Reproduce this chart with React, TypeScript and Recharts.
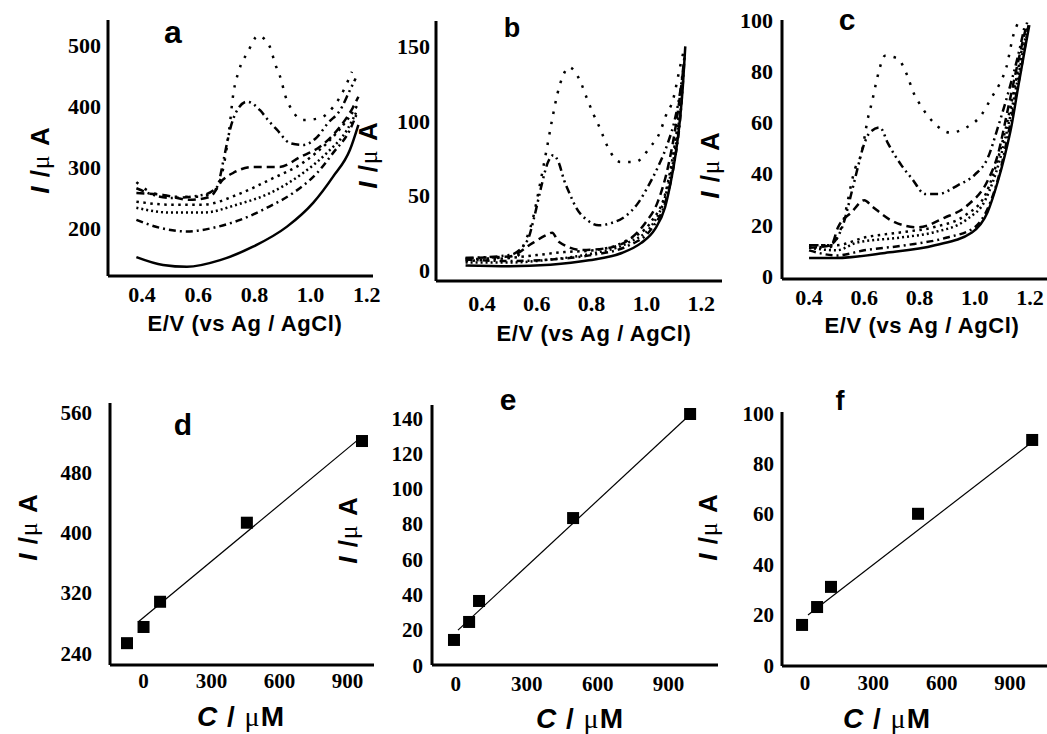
import { LineChart, Line, XAxis, YAxis, ScatterChart, Scatter } from "recharts";

// Cyclic voltammograms (E in V, I in µA) and calibration plots (C in µM, I in µA)

const E_TICKS = [0.4, 0.6, 0.8, 1.0, 1.2];
const C_TICKS = [0, 300, 600, 900];

// panel a
const aSolid = [[0.38, 152], [0.475, 139], [0.56, 136], [0.678, 147], [0.795, 169], [0.916, 202], [1.009, 241], [1.08, 284], [1.14, 328], [1.17, 369]];
const aDashDot = [[0.38, 213], [0.464, 200], [0.56, 194], [0.653, 200], [0.749, 213], [0.845, 233], [0.937, 257], [1.023, 290], [1.08, 323], [1.14, 361], [1.165, 388]];
const aDot1 = [[0.38, 233], [0.5, 225], [0.617, 225], [0.737, 238], [0.855, 257], [0.973, 290], [1.058, 323], [1.13, 361], [1.165, 392]];
const aDot2 = [[0.38, 243], [0.5, 238], [0.617, 238], [0.737, 254], [0.855, 279], [0.973, 307], [1.058, 339], [1.13, 377], [1.165, 400]];
const aDash = [[0.38, 257], [0.475, 254], [0.57, 246], [0.642, 251], [0.688, 279], [0.724, 290], [0.795, 300], [0.89, 300], [0.962, 316], [1.033, 333], [1.105, 366], [1.15, 397], [1.17, 415]];
const aDashDot2 = [[0.38, 265], [0.5, 249], [0.617, 254], [0.667, 267], [0.69, 311], [0.713, 361], [0.735, 390], [0.774, 407], [0.82, 393], [0.848, 377], [0.88, 361], [0.927, 339], [0.973, 336], [1.023, 349], [1.062, 372], [1.105, 393], [1.14, 426], [1.16, 445]];
const aSparse = [[0.38, 275], [0.44, 257], [0.525, 251], [0.606, 251], [0.66, 262], [0.69, 300], [0.71, 360], [0.725, 420], [0.745, 458], [0.777, 489], [0.813, 515], [0.855, 497], [0.873, 470], [0.895, 443], [0.909, 418], [0.934, 393], [0.973, 377], [1.033, 380], [1.08, 398], [1.105, 415], [1.147, 456]];

// panel b
const bSolid = [[0.34, 3], [0.5, 2.5], [0.65, 3.5], [0.79, 6.5], [0.91, 11.4], [0.98, 18], [1.03, 27], [1.068, 42], [1.09, 60], [1.107, 78], [1.122, 100], [1.133, 123], [1.142, 150]];
const bDashDot = [[0.34, 7], [0.5, 6], [0.65, 7], [0.8, 10], [0.93, 16], [1.02, 28], [1.07, 46], [1.1, 70], [1.125, 105], [1.14, 145]];
const bDot1 = [[0.34, 5], [0.5, 5], [0.65, 7], [0.8, 11], [0.93, 18], [1.02, 30], [1.07, 50], [1.1, 75], [1.125, 108]];
const bDot2 = [[0.34, 6], [0.5, 8], [0.6, 10], [0.7, 12], [0.8, 13], [0.93, 20], [1.02, 33], [1.07, 52], [1.1, 80], [1.125, 112]];
const bDash = [[0.34, 8], [0.5, 9], [0.584, 18], [0.63, 23], [0.656, 25], [0.68, 19], [0.765, 13.4], [0.862, 14.8], [0.945, 21.5], [0.996, 31.5], [1.04, 45], [1.08, 70], [1.11, 100], [1.135, 135]];
const bDashDot2 = [[0.34, 8], [0.5, 10], [0.566, 20], [0.59, 35], [0.615, 55], [0.64, 72], [0.66, 77], [0.68, 72], [0.7, 60], [0.718, 52], [0.743, 42], [0.78, 34], [0.826, 30], [0.873, 31.5], [0.923, 36], [0.97, 45], [1.006, 56], [1.042, 69], [1.078, 85], [1.104, 101], [1.126, 123], [1.14, 145]];
const bSparse = [[0.34, 7], [0.45, 8], [0.526, 9], [0.555, 18], [0.585, 34], [0.61, 56], [0.635, 80], [0.655, 100], [0.675, 118], [0.695, 130], [0.718, 136], [0.76, 126], [0.783, 115], [0.808, 104], [0.833, 94], [0.855, 84], [0.905, 72.5], [0.96, 72.5], [1.014, 82.5], [1.05, 92.6], [1.07, 103], [1.097, 114], [1.122, 135.5], [1.14, 150]];

// panel c
const cSolid = [[0.4, 7], [0.494, 7], [0.675, 9], [0.856, 12], [0.99, 17], [1.047, 25], [1.084, 37], [1.109, 47], [1.134, 59], [1.157, 73.5], [1.18, 87.5], [1.198, 98]];
const cDashDot = [[0.4, 10], [0.5, 8], [0.6, 10], [0.75, 12], [0.9, 15], [1.0, 19], [1.05, 27], [1.09, 40], [1.13, 60], [1.17, 82], [1.195, 98]];
const cDot1 = [[0.4, 11], [0.5, 10], [0.573, 13], [0.73, 15], [0.85, 17], [0.97, 22], [1.04, 30], [1.09, 45], [1.13, 63], [1.17, 85], [1.19, 97]];
const cDot2 = [[0.4, 12], [0.5, 12], [0.6, 15], [0.73, 17], [0.85, 19], [0.97, 24], [1.04, 32], [1.09, 48], [1.13, 66], [1.17, 88]];
const cDash = [[0.4, 11], [0.48, 12], [0.505, 19], [0.555, 25], [0.6, 29.6], [0.63, 27], [0.71, 21], [0.795, 19], [0.89, 22.7], [0.975, 27.7], [1.046, 37], [1.083, 47], [1.12, 65], [1.16, 85], [1.19, 99]];
const cDashDot2 = [[0.4, 12], [0.47, 12], [0.52, 19], [0.555, 33], [0.578, 43], [0.595, 50], [0.62, 56], [0.657, 58], [0.685, 52], [0.736, 43], [0.773, 38], [0.82, 32], [0.867, 32], [0.94, 35.5], [1.0, 39.5], [1.047, 46], [1.084, 58], [1.12, 71], [1.157, 86], [1.18, 97]];
const cSparse = [[0.4, 12], [0.47, 11], [0.52, 20], [0.567, 42], [0.59, 48], [0.614, 62], [0.628, 68], [0.64, 74], [0.653, 80], [0.675, 86], [0.72, 85], [0.755, 78.5], [0.777, 72], [0.808, 66], [0.851, 60], [0.91, 56], [0.97, 58], [1.025, 63], [1.06, 69.5], [1.09, 75], [1.115, 81.6], [1.14, 94], [1.162, 100]];

// calibration points (C, I) and fitted lines
const dPoints = [[-73, 253], [0, 274.5], [73, 308], [456, 413], [964, 521.5]];
const dFit = [[-24, 281], [946, 523]];
const ePoints = [[-8, 14.2], [56, 24.4], [98, 36.3], [496, 83.3], [991, 142.3]];
const eFit = [[9, 19.8], [991, 142]];
const fPoints = [[-13, 15.9], [53, 23], [114, 31], [496, 60], [997, 89.3]];
const fFit = [[13, 19.8], [997, 88.5]];

const DASH = {
  solid: undefined,
  dashDot: "7 4 2 4",
  dot1: "2 3",
  dot2: "2.5 4.5",
  dash: "8 5",
  dashDot2: "8 4 2 4 2 4",
  sparse: "2.5 8",
};

const cv = (rows: number[][]) => rows.map(([e, i]) => ({ e, i }));
const cal = (rows: number[][]) => rows.map(([c, i]) => ({ c, i }));

const ML = 80;
const MT = 30;
const MR = 24;
const MB = 70;

const SANS = "Liberation Sans, Arial, sans-serif";
const SERIF = "Liberation Serif, Times New Roman, serif";

const axisLine = { stroke: "#000", strokeWidth: 3 };

const xTick = (size: number, fmt?: (v: number) => string) => (p: any) => (
  <text x={p.x} y={p.y} dy="0.71em" textAnchor="middle" fontSize={size} fontWeight={700} fontFamily={SERIF} fill="#000">
    {fmt ? fmt(p.payload.value) : p.payload.value}
  </text>
);
const yTick = (size: number) => (p: any) => (
  <text x={p.x} y={p.y} dy="0.36em" textAnchor="end" fontSize={size} fontWeight={700} fontFamily={SERIF} fill="#000">
    {p.payload.value}
  </text>
);
const oneDecimal = (v: number) => v.toFixed(1);

type Rect = { x0: number; y0: number; x1: number; y1: number };

function CvPanel({
  r, xDomain, yDomain, yTicks, xGap, yGap, curves,
}: {
  r: Rect; xDomain: number[]; yDomain: number[]; yTicks: number[];
  xGap: number; yGap: number; curves: { data: number[][]; dash?: string }[];
}) {
  return (
    <div style={{ position: "absolute", left: r.x0 - ML, top: r.y0 - MT }}>
      <LineChart width={r.x1 - r.x0 + ML + MR} height={r.y1 - r.y0 + MT + MB} margin={{ top: MT, right: MR, left: 0, bottom: 0 }}>
        <XAxis type="number" dataKey="e" domain={xDomain} ticks={E_TICKS} interval={0} allowDataOverflow
          height={MB} axisLine={axisLine} tickLine={false} tickSize={0} tickMargin={xGap} tick={xTick(22, oneDecimal)} />
        <YAxis type="number" dataKey="i" domain={yDomain} ticks={yTicks} interval={0} allowDataOverflow width={ML}
          axisLine={axisLine} tickLine={false} tickSize={0} tickMargin={yGap} tick={yTick(22)} />
        {curves.map((c, k) => (
          <Line key={k} data={cv(c.data)} dataKey="i" type="monotone" stroke="#000" strokeWidth={2.5}
            strokeDasharray={c.dash} dot={false} activeDot={false} isAnimationActive={false} />
        ))}
      </LineChart>
    </div>
  );
}

const Square = (p: any) => <rect x={p.cx - 6} y={p.cy - 6} width={12} height={12} fill="#000" />;
const NoMark = () => <g />;

function CalPanel({
  r, xDomain, yDomain, yTicks, xGap, yGap, points, fit,
}: {
  r: Rect; xDomain: number[]; yDomain: number[]; yTicks: number[];
  xGap: number; yGap: number; points: number[][]; fit: number[][];
}) {
  return (
    <div style={{ position: "absolute", left: r.x0 - ML, top: r.y0 - MT }}>
      <ScatterChart width={r.x1 - r.x0 + ML + MR} height={r.y1 - r.y0 + MT + MB} margin={{ top: MT, right: MR, left: 0, bottom: 0 }}>
        <XAxis type="number" dataKey="c" domain={xDomain} ticks={C_TICKS} interval={0} allowDataOverflow
          height={MB} axisLine={axisLine} tickLine={false} tickSize={0} tickMargin={xGap} tick={xTick(21)} />
        <YAxis type="number" dataKey="i" domain={yDomain} ticks={yTicks} interval={0} allowDataOverflow width={ML}
          axisLine={axisLine} tickLine={false} tickSize={0} tickMargin={yGap} tick={yTick(21)} />
        <Scatter data={cal(fit)} line={{ stroke: "#000", strokeWidth: 1.2 }} shape={NoMark} isAnimationActive={false} />
        <Scatter data={cal(points)} shape={Square} isAnimationActive={false} />
      </ScatterChart>
    </div>
  );
}

function YTitle({ x, y }: { x: number; y: number }) {
  return (
    <text transform={`translate(${x},${y}) rotate(-90)`} textAnchor="middle" fontSize={26} fontWeight={700} fontFamily={SANS}
      letterSpacing={1}>
      <tspan fontStyle="italic">I</tspan>
      <tspan> /</tspan>
      <tspan fontFamily={SERIF} fontWeight={400}>μ</tspan>
      <tspan> A</tspan>
    </text>
  );
}

function ETitle({ x, y }: { x: number; y: number }) {
  return (
    <text x={x} y={y} textAnchor="middle" fontSize={22} fontWeight={700} fontFamily={SANS} letterSpacing={0.6}>
      E/V (vs Ag / AgCl)
    </text>
  );
}

function CTitle({ x, y }: { x: number; y: number }) {
  return (
    <text x={x} y={y} textAnchor="middle" fontSize={28} fontWeight={700} fontFamily={SANS} letterSpacing={1}>
      <tspan fontStyle="italic">C</tspan>
      <tspan> / </tspan>
      <tspan fontFamily={SERIF} fontWeight={400}>μ</tspan>
      <tspan>M</tspan>
    </text>
  );
}

function Letter({ x, y, t, size }: { x: number; y: number; t: string; size: number }) {
  return (
    <text x={x} y={y} textAnchor="middle" fontSize={size} fontWeight={700} fontFamily={SANS}>
      {t}
    </text>
  );
}

export default function App() {
  return (
    <div style={{ position: "absolute", left: 0, top: 0, width: 1047, height: 734, background: "#fff", overflow: "hidden" }}>
      <CvPanel r={{ x0: 108, y0: 20, x1: 373, y1: 276 }} xDomain={[0.279, 1.222]} yDomain={[121, 541]}
        yTicks={[200, 300, 400, 500]} xGap={10} yGap={7}
        curves={[
          { data: aSolid, dash: DASH.solid }, { data: aDashDot, dash: DASH.dashDot },
          { data: aDot1, dash: DASH.dot1 }, { data: aDot2, dash: DASH.dot2 },
          { data: aDash, dash: DASH.dash }, { data: aDashDot2, dash: DASH.dashDot2 },
          { data: aSparse, dash: DASH.sparse },
        ]} />
      <CvPanel r={{ x0: 436, y0: 21, x1: 722, y1: 281 }} xDomain={[0.232, 1.276]} yDomain={[-7.4, 167]}
        yTicks={[0, 50, 100, 150]} xGap={14} yGap={6}
        curves={[
          { data: bSolid, dash: DASH.solid }, { data: bDashDot, dash: DASH.dashDot },
          { data: bDot1, dash: DASH.dot1 }, { data: bDot2, dash: DASH.dot2 },
          { data: bDash, dash: DASH.dash }, { data: bDashDot2, dash: DASH.dashDot2 },
          { data: bSparse, dash: DASH.sparse },
        ]} />
      <CvPanel r={{ x0: 782, y0: 20, x1: 1047, y1: 279 }} xDomain={[0.302, 1.262]} yDomain={[-1.2, 100]}
        yTicks={[0, 20, 40, 60, 80, 100]} xGap={10} yGap={9}
        curves={[
          { data: cSolid, dash: DASH.solid }, { data: cDashDot, dash: DASH.dashDot },
          { data: cDot1, dash: DASH.dot1 }, { data: cDot2, dash: DASH.dot2 },
          { data: cDash, dash: DASH.dash }, { data: cDashDot2, dash: DASH.dashDot2 },
          { data: cSparse, dash: DASH.sparse },
        ]} />
      <CalPanel r={{ x0: 110, y0: 403, x1: 374, y1: 665 }} xDomain={[-148, 1017]} yDomain={[224, 572]}
        yTicks={[240, 320, 400, 480, 560]} xGap={8} yGap={18} points={dPoints} fit={dFit} />
      <CalPanel r={{ x0: 432, y0: 405, x1: 718, y1: 665 }} xDomain={[-101, 1109]} yDomain={[0, 147.4]}
        yTicks={[0, 20, 40, 60, 80, 100, 120, 140]} xGap={11} yGap={9} points={ePoints} fit={eFit} />
      <CalPanel r={{ x0: 782, y0: 412, x1: 1047, y1: 666 }} xDomain={[-101, 1062]} yDomain={[-0.4, 100.4]}
        yTicks={[0, 20, 40, 60, 80, 100]} xGap={9} yGap={8} points={fPoints} fit={fFit} />

      <svg width={1047} height={734} style={{ position: "absolute", left: 0, top: 0, pointerEvents: "none" }}>
        <Letter x={173} y={43} t="a" size={32} />
        <Letter x={512} y={37} t="b" size={27} />
        <Letter x={847} y={30} t="c" size={30} />
        <Letter x={183} y={435} t="d" size={30} />
        <Letter x={508} y={410} t="e" size={30} />
        <Letter x={840} y={410} t="f" size={27} />
        <YTitle x={49} y={160} />
        <YTitle x={377} y={155} />
        <YTitle x={719} y={165} />
        <YTitle x={37} y={527} />
        <YTitle x={357} y={530} />
        <YTitle x={717} y={527} />
        <ETitle x={245} y={331} />
        <ETitle x={594} y={341} />
        <ETitle x={922} y={333} />
        <CTitle x={241} y={726} />
        <CTitle x={580} y={728} />
        <CTitle x={887} y={728} />
      </svg>
    </div>
  );
}
